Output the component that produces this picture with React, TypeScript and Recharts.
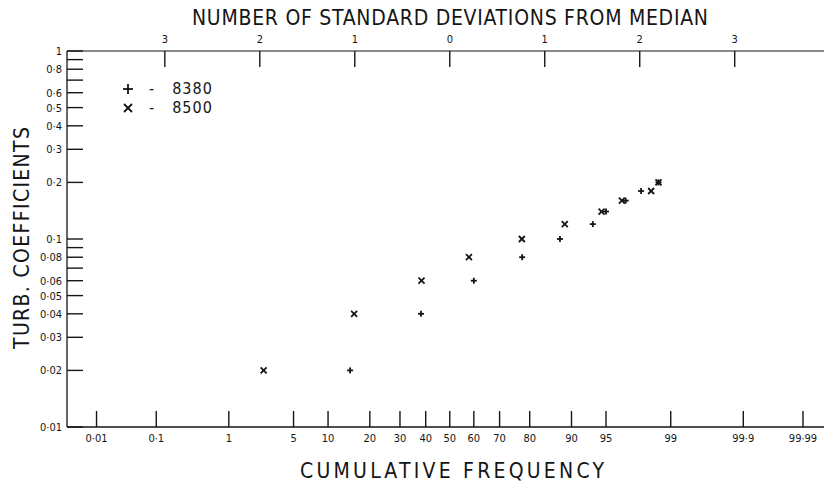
import React from "react";
import { ScatterChart, Scatter, XAxis, YAxis, Legend } from "recharts";

// series: cumulative frequency (%) against turbulence coefficient
const seriesNames = ["8380", "8500"];
const freq8380 = [14.7, 38.1, 60.0, 77.7, 87.7, 93.4, 95.0, 96.8, 97.8, 98.6];
const coef8380 = [0.02, 0.04, 0.06, 0.08, 0.1, 0.12, 0.14, 0.16, 0.18, 0.2];
const freq8500 = [2.5, 15.7, 38.3, 58.0, 77.6, 88.7, 94.5, 96.5, 98.3, 98.6];
const coef8500 = [0.02, 0.04, 0.06, 0.08, 0.1, 0.12, 0.14, 0.16, 0.18, 0.2];

// axis ticks
const freqTicks = [0.01, 0.1, 1, 5, 10, 20, 30, 40, 50, 60, 70, 80, 90, 95, 99, 99.9, 99.99];
const freqTickLabels = ["0·01", "0·1", "1", "5", "10", "20", "30", "40", "50", "60", "70", "80", "90", "95", "99", "99·9", "99·99"];
const sdTicks = [-3, -2, -1, 0, 1, 2, 3];
const sdTickLabels = ["3", "2", "1", "0", "1", "2", "3"];
const coefTicks = [0.01, 0.02, 0.03, 0.04, 0.05, 0.06, 0.07, 0.08, 0.09, 0.1, 0.2, 0.3, 0.4, 0.5, 0.6, 0.7, 0.8, 0.9, 1];
const coefTickLabels = ["0·01", "0·02", "0·03", "0·04", "0·05", "0·06", "", "0·08", "", "0·1", "0·2", "0·3", "0·4", "0·5", "0·6", "", "0·8", "", "1"];

const INK = "#151515";
const FONT = "'Liberation Sans Narrow', 'DejaVu Sans Condensed', 'DejaVu Sans', sans-serif";
const W = 824;
const H = 485;
const Z_DOMAIN: [number, number] = [-4.03, 3.94];

if (typeof document !== "undefined") document.body.style.margin = "0";

// inverse normal cdf (Acklam), takes a percentage
function probit(pct: number) {
  const p = pct / 100;
  const a = [-39.69683028665376, 220.9460984245205, -275.9285104469687, 138.357751867269, -30.66479806614716, 2.506628277459239];
  const b = [-54.47609879822406, 161.5858368580409, -155.6989798598866, 66.80131188771972, -13.28068155288572];
  const c = [-0.007784894002430293, -0.3223964580411365, -2.400758277161838, -2.549732539343734, 4.374664141464968, 2.938163982698783];
  const d = [0.007784695709041462, 0.3224671290700398, 2.445134137142996, 3.754408661907416];
  const lo = 0.02425;
  if (p < lo) {
    const q = Math.sqrt(-2 * Math.log(p));
    return (((((c[0] * q + c[1]) * q + c[2]) * q + c[3]) * q + c[4]) * q + c[5]) /
      ((((d[0] * q + d[1]) * q + d[2]) * q + d[3]) * q + 1);
  }
  if (p <= 1 - lo) {
    const q = p - 0.5;
    const r = q * q;
    return ((((((a[0] * r + a[1]) * r + a[2]) * r + a[3]) * r + a[4]) * r + a[5]) * q) /
      (((((b[0] * r + b[1]) * r + b[2]) * r + b[3]) * r + b[4]) * r + 1);
  }
  const q = Math.sqrt(-2 * Math.log(1 - p));
  return -(((((c[0] * q + c[1]) * q + c[2]) * q + c[3]) * q + c[4]) * q + c[5]) /
    ((((d[0] * q + d[1]) * q + d[2]) * q + d[3]) * q + 1);
}

const data8380 = freq8380.map((f, i) => ({ z: probit(f), coef: coef8380[i] }));
const data8500 = freq8500.map((f, i) => ({ z: probit(f), coef: coef8500[i] }));
const freqTickZ = freqTicks.map(probit);

const Plus = ({ cx, cy, r = 3 }: any) => (
  <g stroke={INK} strokeWidth={1.8}>
    <line x1={cx - r} y1={cy} x2={cx + r} y2={cy} />
    <line x1={cx} y1={cy - r} x2={cx} y2={cy + r} />
  </g>
);

const Cross = ({ cx, cy, r = 3 }: any) => (
  <g stroke={INK} strokeWidth={1.8}>
    <line x1={cx - r} y1={cy - r} x2={cx + r} y2={cy + r} />
    <line x1={cx - r} y1={cy + r} x2={cx + r} y2={cy - r} />
  </g>
);

const NoMark = () => <g />;

// axis ticks point into the plot, labels sit outside
const BottomTick = ({ x, y, index }: any) => (
  <g>
    <line x1={x} y1={y} x2={x} y2={y - 16} stroke={INK} strokeWidth={1.4} />
    <text x={x} y={y + 15} textAnchor="middle" fontSize={11} fontFamily={FONT} fill={INK}>
      {freqTickLabels[index]}
    </text>
  </g>
);

const TopTick = ({ x, y, index }: any) => (
  <g>
    <line x1={x} y1={y} x2={x} y2={y + 16} stroke={INK} strokeWidth={1.4} />
    <text x={x} y={y - 8} textAnchor="middle" fontSize={11} fontFamily={FONT} fill={INK}>
      {sdTickLabels[index]}
    </text>
  </g>
);

const LeftTick = ({ x, y, index }: any) => (
  <g>
    <line x1={x} y1={y} x2={x + 16} y2={y} stroke={INK} strokeWidth={1.4} />
    <text x={x - 5} y={y + 4} textAnchor="end" fontSize={11} fontFamily={FONT} fill={INK}>
      {coefTickLabels[index]}
    </text>
  </g>
);

const renderLegend = (props: any) => (
  <div style={{ fontFamily: FONT, fontSize: 16, color: INK, lineHeight: "19px" }}>
    {(props.payload ?? []).filter((e: any) => seriesNames.includes(e.value)).map((entry: any, i: number) => (
      <div key={entry.value} style={{ display: "flex", alignItems: "center", height: 19 }}>
        <svg width={14} height={14} style={{ display: "block" }}>
          {i === 0 ? <Plus cx={7} cy={7} r={5} /> : <Cross cx={7} cy={7} r={4} />}
        </svg>
        <span style={{ marginLeft: 14 }}>-</span>
        <span style={{ marginLeft: 18, letterSpacing: 1 }}>{entry.value}</span>
      </div>
    ))}
  </div>
);

export default function App() {
  return (
    <div style={{ position: "relative", width: W, height: H, background: "#fff" }}>
      <ScatterChart width={W} height={H} margin={{ top: 0, right: 0, bottom: 0, left: 0 }}>
        <XAxis
          xAxisId="freq"
          dataKey="z"
          type="number"
          domain={Z_DOMAIN}
          allowDataOverflow
          ticks={freqTickZ}
          interval={0}
          height={58}
          tickSize={0}
          tickMargin={0}
          tickLine={false}
          tick={BottomTick}
          axisLine={{ stroke: INK, strokeWidth: 1.3 }}
        />
        <XAxis
          xAxisId="sd"
          dataKey="z"
          orientation="top"
          type="number"
          domain={Z_DOMAIN}
          allowDataOverflow
          ticks={sdTicks}
          interval={0}
          height={51}
          tickSize={0}
          tickMargin={0}
          tickLine={false}
          tick={TopTick}
          axisLine={{ stroke: INK, strokeWidth: 1.2 }}
        />
        <YAxis
          dataKey="coef"
          type="number"
          scale="log"
          domain={[0.01, 1]}
          allowDataOverflow
          ticks={coefTicks}
          interval={0}
          width={67}
          tickSize={0}
          tickMargin={0}
          tickLine={false}
          tick={LeftTick}
          axisLine={{ stroke: INK, strokeWidth: 1.3 }}
        />
        <Legend
          layout="vertical"
          align="center"
          verticalAlign="middle"
          content={renderLegend}
          wrapperStyle={{ left: 121, top: 79, width: 140 }}
        />
        <Scatter
          name={seriesNames[0]}
          xAxisId="freq"
          data={data8380}
          shape={Plus}
          isAnimationActive={false}
        />
        <Scatter
          name={seriesNames[1]}
          xAxisId="freq"
          data={data8500}
          shape={Cross}
          isAnimationActive={false}
        />
        {/* hidden series so the top (standard deviation) axis is drawn */}
        <Scatter
          name="sd"
          xAxisId="sd"
          data={data8500}
          shape={NoMark}
          legendType="none"
          isAnimationActive={false}
        />
      </ScatterChart>
      <svg
        width={W}
        height={H}
        style={{ position: "absolute", left: 0, top: 0, pointerEvents: "none" }}
      >
        <text x={450} y={25} textAnchor="middle" fontSize={21} fontFamily={FONT} fill={INK}
          textLength={516} lengthAdjust="spacing">
          NUMBER OF STANDARD DEVIATIONS FROM MEDIAN
        </text>
        <text x={452} y={478} textAnchor="middle" fontSize={21} fontFamily={FONT} fill={INK}
          textLength={304} lengthAdjust="spacing">
          CUMULATIVE FREQUENCY
        </text>
        <text x={29} y={238} textAnchor="middle" fontSize={21} fontFamily={FONT} fill={INK}
          transform="rotate(-90 29 238)" textLength={222} lengthAdjust="spacing">
          TURB. COEFFICIENTS
        </text>
      </svg>
    </div>
  );
}
